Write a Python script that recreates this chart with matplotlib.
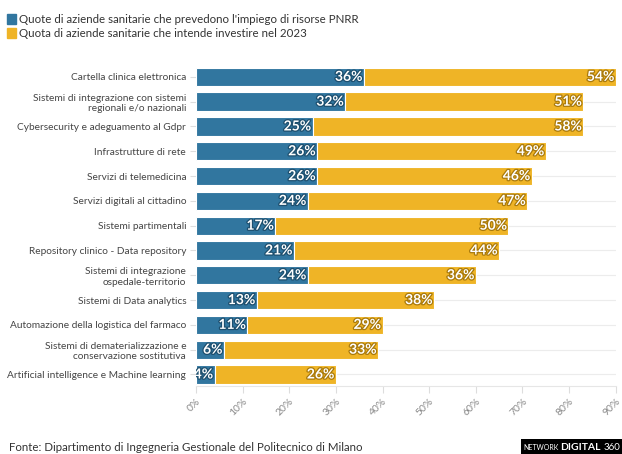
import matplotlib.pyplot as plt
import matplotlib.patheffects as pe
from matplotlib.patches import Patch, Rectangle

categories = [
    "Cartella clinica elettronica",
    "Sistemi di integrazione con sistemi\nregionali e/o nazionali",
    "Cybersecurity e adeguamento al Gdpr",
    "Infrastrutture di rete",
    "Servizi di telemedicina",
    "Servizi digitali al cittadino",
    "Sistemi partimentali",
    "Repository clinico - Data repository",
    "Sistemi di integrazione\nospedale-territorio",
    "Sistemi di Data analytics",
    "Automazione della logistica del farmaco",
    "Sistemi di dematerializzazione e\nconservazione sostitutiva",
    "Artificial intelligence e Machine learning",
]
pnrr = [36, 32, 25, 26, 26, 24, 17, 21, 24, 13, 11, 6, 4]
invest_2023 = [54, 51, 58, 49, 46, 47, 50, 44, 36, 38, 29, 33, 26]
series_names = [
    "Quote di aziende sanitarie che prevedono l'impiego di risorse PNRR",
    "Quota di aziende sanitarie che intende investire nel 2023",
]
xticks = [0, 10, 20, 30, 40, 50, 60, 70, 80, 90]

BLUE = "#31769f"
YELLOW = "#efb426"
plt.rcParams['font.family'] = ['Lato', 'DejaVu Sans']

fig = plt.figure(figsize=(6.22, 4.54), dpi=100)
ax = fig.add_axes([0.315, 0.150, 0.675, 0.708])

y = list(range(len(categories)))
for yi in y:
    ax.axhline(yi, color="#ececec", lw=0.8, zorder=0)

ax.barh(y, pnrr, height=0.74, color=BLUE, edgecolor="white", linewidth=0.8, zorder=2)
ax.barh(y, invest_2023, left=pnrr, height=0.74, color=YELLOW, edgecolor="white", linewidth=0.8, zorder=2)

for yi, a, b in zip(y, pnrr, invest_2023):
    ax.text(a - 0.3, yi, f"{a}%", ha="right", va="center", color="white",
            fontsize=10, fontweight="bold", zorder=3, clip_on=True,
            path_effects=[pe.withStroke(linewidth=1.8, foreground="#1d4f6e")])
    ax.text(a + b - 0.3, yi, f"{b}%", ha="right", va="center", color="white",
            fontsize=10, fontweight="bold", zorder=3,
            path_effects=[pe.withStroke(linewidth=1.8, foreground="#a97a0c")])

ax.set_xlim(0, 90)
ax.set_ylim(12.46, -0.5)
ax.set_yticks(y)
ax.set_yticklabels(categories, fontsize=7.3, color="#444444", linespacing=1.2)
ax.set_xticks(xticks)
ax.set_xticklabels([f"{t}%" for t in xticks], rotation=45, ha="right",
                   rotation_mode="anchor", fontsize=7.5, color="#888888")
ax.tick_params(axis="y", length=4, color="#dddddd", pad=3)
ax.tick_params(axis="x", length=5, color="#dddddd", pad=3)
for s in ["top", "right", "left"]:
    ax.spines[s].set_visible(False)
ax.spines["bottom"].set_color("#e6e6e6")

handles = [Patch(facecolor=BLUE, edgecolor=BLUE), Patch(facecolor=YELLOW, edgecolor=YELLOW)]
fig.legend(handles, series_names, loc="upper left", bbox_to_anchor=(0.0, 0.985),
           frameon=False, fontsize=8.3, handlelength=0.75, handleheight=1.0,
           handletextpad=0.3, labelspacing=0.25, labelcolor="#333333", borderaxespad=0.2)

fig.text(0.014, 0.003, "Fonte: Dipartimento di Ingegneria Gestionale del Politecnico di Milano",
         fontsize=8.3, color="#333333", ha="left", va="bottom")

fig.patches.append(Rectangle((0.838, 0.0), 0.162, 0.032, transform=fig.transFigure,
                             facecolor="black", edgecolor="none", zorder=5))
fig.text(0.842, 0.006, "NETWORK", fontsize=5, color="white", ha="left", va="bottom", zorder=6)
fig.text(0.900, 0.004, "DIGITAL", fontsize=7.5, color="white", fontweight="bold",
         ha="left", va="bottom", zorder=6)
fig.text(0.970, 0.004, "360", fontsize=7, color="white", ha="left", va="bottom", zorder=6)

fig.savefig("out.png", dpi=100)
